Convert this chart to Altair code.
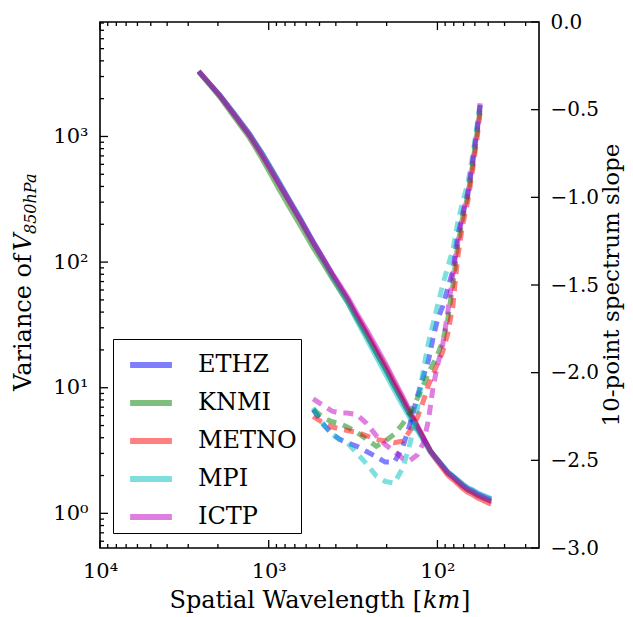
import altair as alt
import pandas as pd

# ---------------- data ----------------
models = ["ETHZ", "KNMI", "METNO", "MPI", "ICTP"]
colors = ["#0000ff", "#008000", "#ff0000", "#00bfbf", "#bf00bf"]

# spectra (left axis)
wl_spec = [2600, 2250, 1950, 1600, 1300, 1100, 960, 870, 740, 650, 545, 470, 420,
           377, 340, 300, 263, 230, 200, 182, 165, 151, 140, 130, 120, 110, 103,
           97, 92, 87, 81, 76, 71, 66, 62, 58, 54, 50, 48]
var_ethz = [3300, 2650, 2140, 1520, 1050, 745, 548, 437, 300, 222, 146, 104, 80,
            63, 50, 36.5, 26.6, 19.0, 13.5, 10.6, 8.3, 6.65, 5.55, 4.65, 3.85, 3.13, 2.81,
            2.56, 2.35, 2.14, 1.98, 1.84, 1.70, 1.58, 1.52, 1.44, 1.38, 1.32, 1.30]
var_knmi = [3260, 2600, 2060, 1430, 975, 670, 485, 382, 262, 196, 130, 95, 74,
            59, 47.5, 35.3, 26.0, 18.8, 13.5, 10.6, 8.4, 6.75, 5.65, 4.72, 3.88, 3.15, 2.81,
            2.54, 2.32, 2.11, 1.95, 1.80, 1.66, 1.54, 1.47, 1.39, 1.33, 1.27, 1.24]
var_metno = [3290, 2640, 2120, 1496, 1031, 726, 531, 423, 290, 215, 141, 101, 78,
             62, 50, 37, 27.4, 19.8, 14.2, 11.1, 8.7, 6.95, 5.75, 4.75, 3.86, 3.08, 2.72,
             2.45, 2.23, 2.02, 1.86, 1.72, 1.58, 1.47, 1.41, 1.33, 1.27, 1.21, 1.18]
var_mpi = [3280, 2630, 2120, 1500, 1040, 735, 538, 428, 293, 217, 141, 100, 76,
           60, 47.5, 34.2, 24.6, 17.5, 12.4, 9.8, 7.7, 6.25, 5.25, 4.45, 3.72, 3.06, 2.77,
           2.53, 2.34, 2.14, 1.99, 1.85, 1.72, 1.60, 1.54, 1.46, 1.40, 1.34, 1.31]
var_ictp = [3320, 2640, 2110, 1480, 1015, 712, 522, 418, 290, 216, 143, 104, 81,
            65, 52.5, 39, 29, 21, 15, 11.7, 9.1, 7.2, 5.9, 4.85, 3.95, 3.15, 2.8,
            2.53, 2.31, 2.1, 1.94, 1.80, 1.66, 1.54, 1.48, 1.40, 1.34, 1.28, 1.25]

# 10-point spectrum slope (right axis)
wl_slope = [545, 470, 420, 380, 342, 300, 263, 230, 204, 180, 160, 145, 132,
            121, 113, 106, 100, 93, 87, 81, 76, 71, 66, 62, 58, 55.6]
slope_ethz = [-2.21, -2.30, -2.35, -2.38, -2.40, -2.42, -2.45, -2.48, -2.51, -2.51,
              -2.42, -2.29, -2.14, -2.02, -1.93, -1.80, -1.70, -1.62, -1.52, -1.42,
              -1.22, -1.10, -0.98, -0.81, -0.61, -0.47]
slope_knmi = [-2.21, -2.26, -2.28, -2.29, -2.31, -2.34, -2.38, -2.42, -2.39, -2.35,
              -2.29, -2.23, -2.15, -2.07, -2.00, -1.95, -1.90, -1.82, -1.70, -1.50,
              -1.28, -1.12, -0.99, -0.82, -0.62, -0.48]
slope_metno = [-2.25, -2.29, -2.31, -2.32, -2.33, -2.34, -2.36, -2.38, -2.39, -2.40,
               -2.39, -2.33, -2.26, -2.16, -2.07, -2.01, -1.95, -1.88, -1.78, -1.62,
               -1.35, -1.16, -1.02, -0.85, -0.65, -0.50]
slope_mpi = [-2.20, -2.30, -2.35, -2.38, -2.40, -2.46, -2.52, -2.59, -2.62, -2.63,
             -2.54, -2.40, -2.22, -1.98, -1.83, -1.72, -1.62, -1.50, -1.40, -1.30,
             -1.15, -1.03, -0.92, -0.77, -0.58, -0.45]
slope_ictp = [-2.15, -2.19, -2.22, -2.23, -2.23, -2.24, -2.29, -2.36, -2.41, -2.45,
              -2.49, -2.50, -2.47, -2.40, -2.27, -2.08, -1.96, -1.84, -1.66, -1.44,
              -1.26, -1.10, -0.97, -0.80, -0.60, -0.45]

# axis ticks / labels
x_major = [10000, 1000, 100]
x_major_labels = ["10\u2074", "10\u00b3", "10\u00b2"]
x_minor = [9000, 8000, 7000, 6000, 5000, 4000, 3000, 2000,
           900, 800, 700, 600, 500, 400, 300, 200,
           90, 80, 70, 60, 50, 40, 30]
yl_major = [1, 10, 100, 1000]
yl_major_labels = ["10\u2070", "10\u00b9", "10\u00b2", "10\u00b3"]
yl_minor = [0.6, 0.7, 0.8, 0.9, 2, 3, 4, 5, 6, 7, 8, 9,
            20, 30, 40, 50, 60, 70, 80, 90,
            200, 300, 400, 500, 600, 700, 800, 900,
            2000, 3000, 4000, 5000, 6000, 7000, 8000]
yr_major = [0.0, -0.5, -1.0, -1.5, -2.0, -2.5, -3.0]

# ---------------- tables ----------------
spec_vals = [var_ethz, var_knmi, var_metno, var_mpi, var_ictp]
slope_vals = [slope_ethz, slope_knmi, slope_metno, slope_mpi, slope_ictp]
spec_df = pd.DataFrame([
    {"model": m, "wl": w, "var": v, "k": i}
    for m, vals in zip(models, spec_vals) for i, (w, v) in enumerate(zip(wl_spec, vals))
])
slope_df = pd.DataFrame([
    {"model": m, "wl": w, "slope": s, "k": i}
    for m, vals in zip(models, slope_vals) for i, (w, s) in enumerate(zip(wl_slope, vals))
])

W, H = 439, 526
FONT = "DejaVu Serif"

x_scale = alt.Scale(type="log", domain=[10000, 25], nice=False)
yl_scale = alt.Scale(type="log", domain=[0.53, 8150], nice=False)
yr_scale = alt.Scale(type="linear", domain=[-3, 0], nice=False, zero=False)
color_scale = alt.Scale(domain=models, range=colors)


def label_expr(vals, labels):
    expr = "''"
    for v, l in zip(vals, labels):
        expr = f"abs(datum.value - {v}) < {abs(v) * 1e-6 + 1e-9} ? '{l}' : " + expr
    return expr


x_axis = alt.Axis(values=x_major, labelExpr=label_expr(x_major, x_major_labels),
                  ticks=False, domain=False, grid=False, labelPadding=12,
                  labelFont=FONT, labelFontSize=21, labelColor="black",
                  labelBaseline="top", title=None, labelFlush=False, orient="bottom")
yl_axis = alt.Axis(values=yl_major, labelExpr=label_expr(yl_major, yl_major_labels),
                   ticks=False, domain=False, grid=False, labelPadding=12,
                   labelFont=FONT, labelFontSize=21, labelColor="black",
                   title=None, orient="left", labelFlush=False)
yr_axis = alt.Axis(values=yr_major, format=".1f", ticks=False, domain=False,
                   grid=False, labelPadding=11, labelFont=FONT, labelFontSize=20,
                   labelColor="black", title=None, orient="right", labelFlush=False)

NB = "\u00a0"
legend = alt.Legend(orient="none", legendX=13, legendY=317, title=None,
                    fillColor="white", strokeColor="black", padding=4,
                    cornerRadius=0, symbolType="M-1.1,0H1.1", symbolSize=1444,
                    symbolStrokeWidth=6, symbolOpacity=0.5, symbolOffset=12,
                    labelFont=FONT, labelFontSize=24, labelColor="black",
                    labelOffset=25, rowPadding=4,
                    labelExpr=f"datum.label + '{NB * 4}'")

solid = alt.Chart(spec_df).mark_line(strokeWidth=5, opacity=0.5).encode(
    x=alt.X("wl:Q", scale=x_scale, axis=x_axis),
    y=alt.Y("var:Q", scale=yl_scale, axis=yl_axis),
    color=alt.Color("model:N", scale=color_scale, legend=legend),
    order="k:Q",
)

dashed = alt.Chart(slope_df).mark_line(strokeWidth=5, opacity=0.5,
                                       strokeDash=[10, 7]).encode(
    x=alt.X("wl:Q", scale=x_scale, axis=x_axis),
    y=alt.Y("slope:Q", scale=yr_scale, axis=yr_axis),
    color=alt.Color("model:N", scale=color_scale, legend=None),
    order="k:Q",
)

TICK_W = 1.3


def xtick_layers(vals, length):
    d = pd.DataFrame({"v": vals})
    base = alt.Chart(d).mark_rule(color="black", strokeWidth=TICK_W)
    xe = alt.X("v:Q", scale=x_scale, axis=x_axis)
    return [base.encode(x=xe, y=alt.value(H), y2=alt.value(H - length)),
            base.encode(x=xe, y=alt.value(0), y2=alt.value(length))]


def yl_tick_layer(vals, length):
    d = pd.DataFrame({"v": vals})
    return alt.Chart(d).mark_rule(color="black", strokeWidth=TICK_W).encode(
        y=alt.Y("v:Q", scale=yl_scale, axis=yl_axis), x=alt.value(0), x2=alt.value(length))


def yr_tick_layer(vals, length):
    d = pd.DataFrame({"v": vals})
    return alt.Chart(d).mark_rule(color="black", strokeWidth=TICK_W).encode(
        y=alt.Y("v:Q", scale=yr_scale, axis=yr_axis), x=alt.value(W), x2=alt.value(W - length))


def text_layer(txt, x, y, size=24, style="normal", angle=0, align="center",
               baseline="alphabetic"):
    d = pd.DataFrame({"t": [txt]})
    return alt.Chart(d).mark_text(font=FONT, fontSize=size, fontStyle=style,
                                  angle=angle, align=align, baseline=baseline,
                                  color="black").encode(
        text="t:N", x=alt.value(x), y=alt.value(y))


left_group = alt.layer(solid, yl_tick_layer(yl_major, 8), yl_tick_layer(yl_minor, 4))
right_group = alt.layer(dashed, yr_tick_layer(yr_major, 8))

texts = [
    # x title: Spatial Wavelength [km]
    text_layer("Spatial Wavelength [", 322, 586, align="right"),
    text_layer("km", 323, 586, style="italic", align="left"),
    text_layer("]", 361, 586, align="left"),
    # left title: Variance of V_850hPa
    text_layer("Variance of ", -69, 369, angle=270, align="left"),
    text_layer("V", -69, 229, style="italic", angle=270, align="left"),
    text_layer("850hPa", -64, 212, size=16, style="italic", angle=270, align="left"),
    # right title
    text_layer("10-point spectrum slope", 519, H / 2, size=23, angle=270, align="center"),
]

chart = alt.layer(
    left_group, right_group,
    *xtick_layers(x_major, 8), *xtick_layers(x_minor, 4),
    *texts,
).resolve_scale(y="independent").properties(
    width=W, height=H,
    autosize=alt.AutoSizeParams(type="none"),
    padding={"left": 92, "top": 14, "right": 86, "bottom": 66},
    background="white",
).configure_view(stroke="black", strokeWidth=1.6)

chart.save("out.html", embed_options={"renderer": "svg", "actions": False})
